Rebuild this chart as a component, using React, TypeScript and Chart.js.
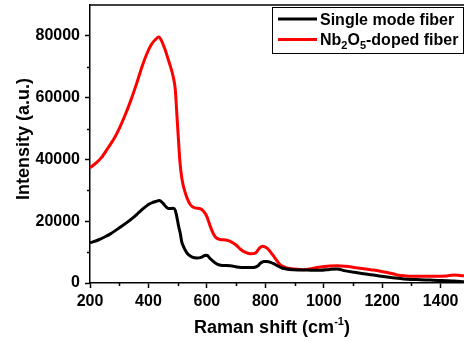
import React, { useEffect, useRef } from 'react';
import { Chart, registerables } from 'chart.js';

Chart.register(...registerables);

// ---- data ----
const xTicks = [200, 400, 600, 800, 1000, 1200, 1400];
const xMinorTicks = [300, 500, 700, 900, 1100, 1300];
const yTicks = [0, 20000, 40000, 60000, 80000];
const yMinorTicks = [10000, 30000, 50000, 70000];

const seriesLabels = ['Single mode fiber', 'Nb2O5-doped fiber'];

const blackX = [200, 230, 250, 270, 307, 335, 350, 365, 385, 400, 410, 425, 437, 450, 463, 470, 485, 492, 497, 503, 509, 514, 520, 530, 537, 550, 566, 580, 592, 600, 610, 623, 637, 652, 680, 703, 730, 760, 775, 783, 795, 806, 818, 829, 843, 857, 897, 940, 989, 1020, 1046, 1070, 1103, 1130, 1160, 1190, 1217, 1245, 1274, 1300, 1331, 1360, 1389, 1420, 1446, 1480];
const blackY = [13000, 14000, 14900, 15900, 18300, 20200, 21300, 22600, 24300, 25400, 25900, 26400, 26700, 25800, 24400, 24100, 24200, 23500, 21500, 18500, 16000, 13300, 11800, 10000, 9200, 8400, 8100, 8300, 8900, 9000, 8000, 6900, 6000, 5700, 5600, 5200, 5000, 5050, 5600, 6400, 7000, 7000, 6700, 6250, 5500, 4850, 4300, 4200, 4100, 4400, 4550, 4000, 3450, 3100, 2700, 2300, 1950, 1600, 1300, 1150, 1070, 950, 840, 750, 650, 420];

const redX = [200, 220, 239, 262, 285, 300, 320, 340, 360, 380, 395, 410, 425, 435, 445, 456, 465, 473, 485, 492, 497, 503, 508, 515, 526, 543, 560, 575, 588, 600, 611, 622, 632, 645, 665, 680, 700, 714, 730, 749, 766, 780, 790, 806, 818, 829, 840, 851, 874, 900, 931, 960, 989, 1020, 1046, 1075, 1103, 1130, 1160, 1190, 1217, 1240, 1263, 1300, 1331, 1360, 1389, 1420, 1446, 1465, 1480];
const redY = [37300, 38800, 40600, 43800, 47200, 50000, 54300, 59200, 64700, 70600, 74300, 77200, 78900, 79600, 78400, 75800, 73200, 70800, 66700, 62500, 55000, 46000, 39000, 33500, 29200, 25400, 24300, 24100, 23300, 21500, 18500, 16000, 14600, 14100, 13900, 13500, 12300, 11000, 10000, 9500, 9700, 11300, 11900, 11300, 10000, 8600, 7200, 5900, 4900, 4500, 4300, 4700, 5200, 5500, 5600, 5400, 5050, 4700, 4300, 3900, 3400, 2900, 2400, 2200, 2150, 2150, 2150, 2300, 2550, 2450, 2350];

const FONT = "'Liberation Sans', Arial, Helvetica, sans-serif";

type Part = { t: string; sub?: boolean; sup?: boolean };

function drawRich(ctx: CanvasRenderingContext2D, parts: Part[], x: number, y: number, size: number, smallSize: number, align: 'left' | 'center') {
  const measure = (p: Part) => {
    ctx.font = `bold ${p.sub || p.sup ? smallSize : size}px ${FONT}`;
    return ctx.measureText(p.t).width;
  };
  const total = parts.reduce((s, p) => s + measure(p), 0);
  let cx = align === 'center' ? x - total / 2 : x;
  ctx.textAlign = 'left';
  ctx.textBaseline = 'alphabetic';
  for (const p of parts) {
    ctx.font = `bold ${p.sub || p.sup ? smallSize : size}px ${FONT}`;
    const dy = p.sub ? size * 0.28 : p.sup ? -size * 0.42 : 0;
    ctx.fillText(p.t, cx, y + dy);
    cx += ctx.measureText(p.t).width;
  }
}

export default function App() {
  const ref = useRef<HTMLCanvasElement>(null);

  useEffect(() => {
    document.body.style.margin = '0';
    const canvas = ref.current;
    if (!canvas) return;

    const decor = {
      id: 'decor',
      afterDraw(chart: any) {
        const ctx: CanvasRenderingContext2D = chart.ctx;
        const { left, right, top, bottom } = chart.chartArea;
        const xs = chart.scales.x;
        const ys = chart.scales.y;
        ctx.save();
        ctx.strokeStyle = '#000';
        ctx.lineWidth = 1.5;
        // top frame
        ctx.beginPath();
        ctx.moveTo(left, top);
        ctx.lineTo(right, top);
        ctx.stroke();
        // minor ticks
        ctx.beginPath();
        for (const v of xMinorTicks) {
          const px = Math.round(xs.getPixelForValue(v)) + 0.5;
          ctx.moveTo(px, bottom);
          ctx.lineTo(px, bottom + 3);
        }
        for (const v of yMinorTicks) {
          const py = Math.round(ys.getPixelForValue(v)) + 0.5;
          ctx.moveTo(left, py);
          ctx.lineTo(left - 3, py);
        }
        ctx.stroke();

        // legend
        const bx = left + 182;
        const by = top + 2;
        const bw = right - 1 - bx;
        const bh = 46;
        ctx.fillStyle = '#fff';
        ctx.fillRect(bx, by, bw, bh);
        ctx.lineWidth = 1;
        ctx.strokeStyle = '#000';
        ctx.strokeRect(bx + 0.5, by + 0.5, bw, bh);
        const rows = [
          { color: '#000000', parts: [{ t: seriesLabels[0] }] as Part[] },
          { color: '#ff0000', parts: [{ t: 'Nb' }, { t: '2', sub: true }, { t: 'O' }, { t: '5', sub: true }, { t: '-doped fiber' }] as Part[] },
        ];
        rows.forEach((r, i) => {
          const ly = by + 12 + i * 20.5;
          ctx.strokeStyle = r.color;
          ctx.lineWidth = 3;
          ctx.beginPath();
          ctx.moveTo(bx + 6, ly);
          ctx.lineTo(bx + 45, ly);
          ctx.stroke();
          ctx.fillStyle = '#000';
          drawRich(ctx, r.parts, bx + 48, ly + 5.5, 16, 11, 'left');
        });

        // axis titles
        ctx.fillStyle = '#000';
        drawRich(ctx, [{ t: 'Raman shift (cm' }, { t: '-1', sup: true }, { t: ')' }], (left + right) / 2 - 5, 333, 18, 11, 'center');
        ctx.save();
        ctx.translate(29, (top + bottom) / 2 - 5);
        ctx.rotate(-Math.PI / 2);
        ctx.font = `bold 18px ${FONT}`;
        ctx.textAlign = 'center';
        ctx.textBaseline = 'alphabetic';
        ctx.fillText('Intensity (a.u.)', 0, 0);
        ctx.restore();
        ctx.restore();
      },
    };

    const chart = new Chart(canvas, {
      type: 'line',
      data: {
        datasets: [
          {
            label: seriesLabels[0],
            data: blackX.map((x, i) => ({ x, y: blackY[i] })),
            borderColor: '#000000',
            backgroundColor: '#000000',
            borderWidth: 3,
            pointRadius: 0,
            cubicInterpolationMode: 'monotone',
          },
          {
            label: seriesLabels[1],
            data: redX.map((x, i) => ({ x, y: redY[i] })),
            borderColor: '#ff0000',
            backgroundColor: '#ff0000',
            borderWidth: 3,
            pointRadius: 0,
            cubicInterpolationMode: 'monotone',
          },
        ],
      },
      options: {
        animation: false,
        responsive: false,
        devicePixelRatio: 1,
        layout: { padding: { top: 5, left: 0, right: 0, bottom: 0 } },
        plugins: { legend: { display: false }, tooltip: { enabled: false } },
        scales: {
          x: {
            type: 'linear',
            min: 200,
            max: 1480,
            afterBuildTicks: (s: any) => { s.ticks = xTicks.map((v) => ({ value: v })); },
            afterFit: (s: any) => { s.height = 58; s.paddingLeft = 0; s.paddingRight = 0; },
            ticks: { color: '#000', font: { family: FONT, size: 16, weight: 'bold' }, padding: 4, maxRotation: 0, callback: (v: any) => String(v) },
            grid: { display: true, drawOnChartArea: false, drawTicks: true, tickLength: 5, tickColor: '#000', tickWidth: 1.5 },
            border: { display: true, color: '#000', width: 1.5 },
          },
          y: {
            type: 'linear',
            min: 0,
            max: 90000,
            afterBuildTicks: (s: any) => { s.ticks = yTicks.map((v) => ({ value: v })); },
            afterFit: (s: any) => { s.width = 90; s.paddingTop = 0; s.paddingBottom = 0; },
            ticks: { color: '#000', font: { family: FONT, size: 16, weight: 'bold' }, padding: 5, callback: (v: any) => String(v) },
            grid: { display: true, drawOnChartArea: false, drawTicks: true, tickLength: 5, tickColor: '#000', tickWidth: 1.5 },
            border: { display: true, color: '#000', width: 1.5 },
          },
        },
      },
      plugins: [decor],
    } as any);

    return () => chart.destroy();
  }, []);

  return <canvas ref={ref} width={464} height={341} style={{ display: 'block' }} />;
}
